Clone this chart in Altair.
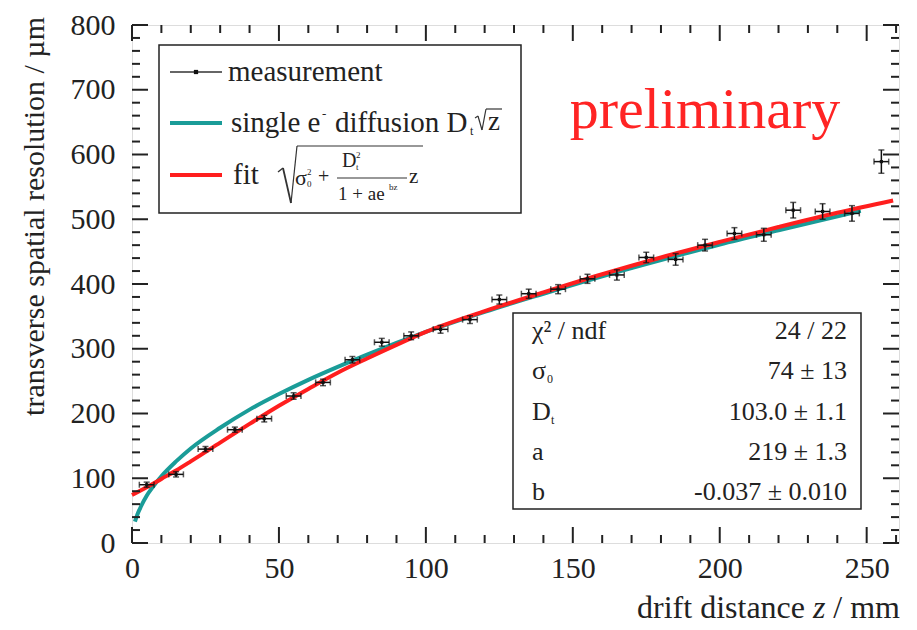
import altair as alt
import pandas as pd

# ---------------- data ----------------
meas_z = [5, 15, 25, 35, 45, 55, 65, 75, 85, 95, 105, 115, 125, 135, 145, 155,
          165, 175, 185, 195, 205, 215, 225, 235, 245, 255]
meas_res = [90, 106, 145, 175, 192, 227, 248, 283, 310, 320, 330, 345, 376, 385,
            392, 408, 414, 441, 438, 460, 478, 476, 514, 512, 509, 589]
meas_zerr = [2.5, 2.5, 2.5, 2.5, 2.5, 2.5, 2.5, 2.5, 2.5, 2.5, 2.5, 2.5, 2.5,
             2.5, 2.5, 2.5, 2.5, 2.5, 2.5, 2.5, 2.5, 2.5, 2.5, 2.5, 2.5, 2.5]
meas_reserr = [4, 4, 4, 4, 5, 5, 5, 5, 6, 6, 6, 6, 7, 7, 7, 7, 8, 8, 9, 9, 9,
               10, 12, 12, 12, 18]

diff_z = [1, 2, 3, 5, 7, 10, 15, 20, 30, 40, 50, 60, 70, 80, 100, 120, 140,
          160, 180, 200, 220, 248]
diff_res = [33, 46, 56, 73, 86, 103, 126, 146, 178, 206, 230, 252, 272, 291,
            326, 357, 385, 412, 437, 461, 483, 513]

fit_z = [0, 5, 10, 15, 20, 30, 40, 50, 60, 70, 80, 90, 100, 120, 140, 160,
         180, 200, 220, 240, 259]
fit_res = [74, 86, 99, 112, 126, 155, 184, 212, 238, 263, 285, 306, 326, 358,
           387, 415, 441, 465, 488, 510, 529]

x_major = [0, 50, 100, 150, 200, 250]
x_minor = [10, 20, 30, 40, 60, 70, 80, 90, 110, 120, 130, 140, 160, 170, 180,
           190, 210, 220, 230, 240, 260]
y_major = [0, 100, 200, 300, 400, 500, 600, 700, 800]
y_minor = [20, 40, 60, 80, 120, 140, 160, 180, 220, 240, 260, 280, 320, 340,
           360, 380, 420, 440, 460, 480, 520, 540, 560, 580, 620, 640, 660,
           680, 720, 740, 760, 780]

stat_names = ["χ² / ndf", "σ", "D", "a", "b"]
stat_subs = ["", "0", "t", "", ""]
stat_values = ["24 / 22", "74 ± 13", "103.0 ± 1.1", "219 ± 1.3", "-0.037 ± 0.010"]

# ---------------- layout / style ----------------
TOP = 17                 # top padding (plot area starts at 8 + TOP)
DY = 14 - TOP            # keeps annotations at the same page position
W, H = 767, 535 - TOP
FONT = "'Liberation Serif', 'Times New Roman', 'DejaVu Serif', serif"
TXT = "#222222"
TEAL = "#1a9c98"
RED = "#ff1e1e"

xs = alt.Scale(domain=[0, 261], nice=False, zero=False)
ys = alt.Scale(domain=[0, 800], nice=False, zero=False)

x_axis = alt.Axis(values=x_major, ticks=False, tickSize=0, domain=False, grid=False,
                  labelFont=FONT, labelFontSize=30, labelColor=TXT,
                  labelPadding=10, labelFlush=False, title=None)
y_axis = alt.Axis(values=y_major, ticks=False, tickSize=0, domain=False, grid=False,
                  labelFont=FONT, labelFontSize=30, labelColor=TXT,
                  labelPadding=17, labelFlush=False, title=None)


def X(f):
    return alt.X(f, scale=xs, axis=x_axis)


def Y(f):
    return alt.Y(f, scale=ys, axis=y_axis)


meas = pd.DataFrame({"z": meas_z, "r": meas_res})
meas["zlo"] = meas["z"] - pd.Series(meas_zerr)
meas["zhi"] = meas["z"] + pd.Series(meas_zerr)
meas["rlo"] = meas["r"] - pd.Series(meas_reserr)
meas["rhi"] = meas["r"] + pd.Series(meas_reserr)

diff = pd.DataFrame({"z": diff_z, "r": diff_res})
fit = pd.DataFrame({"z": fit_z, "r": fit_res})
one = pd.DataFrame({"a": [0]})

layers = []

# curves
layers.append(alt.Chart(diff).mark_line(color=TEAL, strokeWidth=4, interpolate="monotone").encode(
    x=X("z:Q"), y=Y("r:Q")))
layers.append(alt.Chart(fit).mark_line(color=RED, strokeWidth=4, interpolate="monotone").encode(
    x=X("z:Q"), y=Y("r:Q")))

# measurement with error bars
layers.append(alt.Chart(meas).mark_rule(color="#111", strokeWidth=1.5).encode(
    x=X("zlo:Q"), x2="zhi:Q", y=Y("r:Q")))
layers.append(alt.Chart(meas).mark_rule(color="#111", strokeWidth=1.5).encode(
    x=X("z:Q"), y=Y("rlo:Q"), y2="rhi:Q"))
for f in ["rlo", "rhi"]:
    layers.append(alt.Chart(meas).mark_tick(color="#111", orient="horizontal", size=6, thickness=1.5).encode(
        x=X("z:Q"), y=Y(f + ":Q")))
for f in ["zlo", "zhi"]:
    layers.append(alt.Chart(meas).mark_tick(color="#111", orient="vertical", size=6, thickness=1.5).encode(
        x=X(f + ":Q"), y=Y("r:Q")))
layers.append(alt.Chart(meas).mark_square(color="#111", size=10, opacity=1).encode(
    x=X("z:Q"), y=Y("r:Q")))

# inward ticks on all four sides
xmaj = pd.DataFrame({"v": x_major})
xmin = pd.DataFrame({"v": x_minor})
ymaj = pd.DataFrame({"v": y_major})
ymin = pd.DataFrame({"v": y_minor})
for df, ln in [(xmaj, 16), (xmin, 8)]:
    layers.append(alt.Chart(df).mark_rule(color="#222", strokeWidth=2).encode(
        x=X("v:Q"), y=alt.value(H), y2=alt.value(H - ln)))
    layers.append(alt.Chart(df).mark_rule(color="#222", strokeWidth=2).encode(
        x=X("v:Q"), y=alt.value(0), y2=alt.value(ln)))
for df, ln in [(ymaj, 16), (ymin, 8)]:
    layers.append(alt.Chart(df).mark_rule(color="#222", strokeWidth=2).encode(
        y=Y("v:Q"), x=alt.value(0), x2=alt.value(ln)))
    layers.append(alt.Chart(df).mark_rule(color="#222", strokeWidth=2).encode(
        y=Y("v:Q"), x=alt.value(W), x2=alt.value(W - ln)))


def box(x1, y1, x2, y2):
    return alt.Chart(one).mark_rect(fill="white", stroke="#222", strokeWidth=1.5).encode(
        x=alt.value(x1), x2=alt.value(x2), y=alt.value(y1 + DY), y2=alt.value(y2 + DY))


def seg(x1, y1, x2, y2, color="#222", w=1.5):
    return alt.Chart(one).mark_rule(color=color, strokeWidth=w).encode(
        x=alt.value(x1), x2=alt.value(x2), y=alt.value(y1 + DY), y2=alt.value(y2 + DY))


def txt(t, x, y, size, align="left", baseline="middle", color=TXT, style="normal", angle=0):
    kw = dict(text=t, align=align, baseline=baseline, fontSize=size, font=FONT,
              color=color, fontStyle=style)
    if angle:
        kw["angle"] = angle
    return alt.Chart(one).mark_text(**kw).encode(x=alt.value(x), y=alt.value(y + DY))


# legend box
layers.append(box(27, 23, 389, 191))
layers.append(seg(38, 50, 90, 50, "#333", 1.5))
layers.append(alt.Chart(one).mark_square(color="#111", size=18, opacity=1).encode(
    x=alt.value(64), y=alt.value(50 + DY)))
layers.append(txt("measurement", 96, 50, 29))
layers.append(seg(38, 101, 90, 101, TEAL, 4))
layers.append(txt("single e", 99, 101, 29))
layers.append(txt("-", 190, 92, 13))
layers.append(txt("diffusion D", 203, 101, 29))
layers.append(txt("t", 338, 109, 12))
layers.append(seg(343, 96, 346, 94, "#333", 1.2))
layers.append(seg(346, 94, 350, 108, "#333", 1.2))
layers.append(seg(350, 108, 354, 87, "#333", 1.2))
layers.append(seg(354, 87, 370, 87, "#333", 1.2))
layers.append(txt("z", 356, 100, 27))
layers.append(seg(38, 153, 90, 153, RED, 4))
layers.append(txt("fit", 101, 153, 29))
# radical of the fit formula
layers.append(seg(146, 150, 151, 146, "#333", 1.5))
layers.append(seg(151, 146, 159, 181, "#333", 1.8))
layers.append(seg(159, 181, 165, 124, "#333", 1.2))
layers.append(seg(165, 124, 291, 124, "#333", 1.2))
layers.append(txt("σ", 163, 156, 22))
layers.append(txt("0", 175, 162, 9))
layers.append(txt("2", 175, 150, 9))
layers.append(txt("+", 186, 155, 20))
layers.append(txt("D", 210, 139, 20))
layers.append(txt("t", 224, 145, 9))
layers.append(txt("2", 224, 133, 9))
layers.append(seg(205, 156, 275, 156, "#333", 1.2))
layers.append(txt("1 + ae", 206, 172, 19))
layers.append(txt("bz", 257, 165, 9))
layers.append(txt("z", 277, 155, 21))

# statistics box
layers.append(box(381, 291, 729, 487))
rows_y = [309, 349, 390, 430, 470]
sub_x = [0, 415, 419, 0, 0]
for n, s, sx, v, yy in zip(stat_names, stat_subs, sub_x, stat_values, rows_y):
    layers.append(txt(n, 400, yy, 26))
    if s:
        layers.append(txt(s, sx, yy + 8, 12))
    layers.append(txt(v, 715, yy, 26, align="right"))

# preliminary
layers.append(txt("preliminary", 573, 106, 58, align="center", baseline="alphabetic", color="#ff2424"))

# axis titles
layers.append(txt("transverse spatial resolution / µm", -97, -5, 30, align="right", angle=270))
layers.append(txt("drift distance", 673, 596, 32, align="right", baseline="alphabetic"))
layers.append(txt("z", 681, 596, 32, baseline="alphabetic", style="italic"))
layers.append(txt("/ mm", 768, 596, 32, align="right", baseline="alphabetic"))

chart = alt.layer(*layers).properties(
    width=W, height=H,
    padding={"left": 124, "top": TOP, "right": 10, "bottom": 86},
    autosize=alt.AutoSizeParams(type="none"),
).configure_view(stroke="#222", strokeWidth=2).configure(background="white")

chart.save("out.html", embed_options={"renderer": "svg", "actions": False})
